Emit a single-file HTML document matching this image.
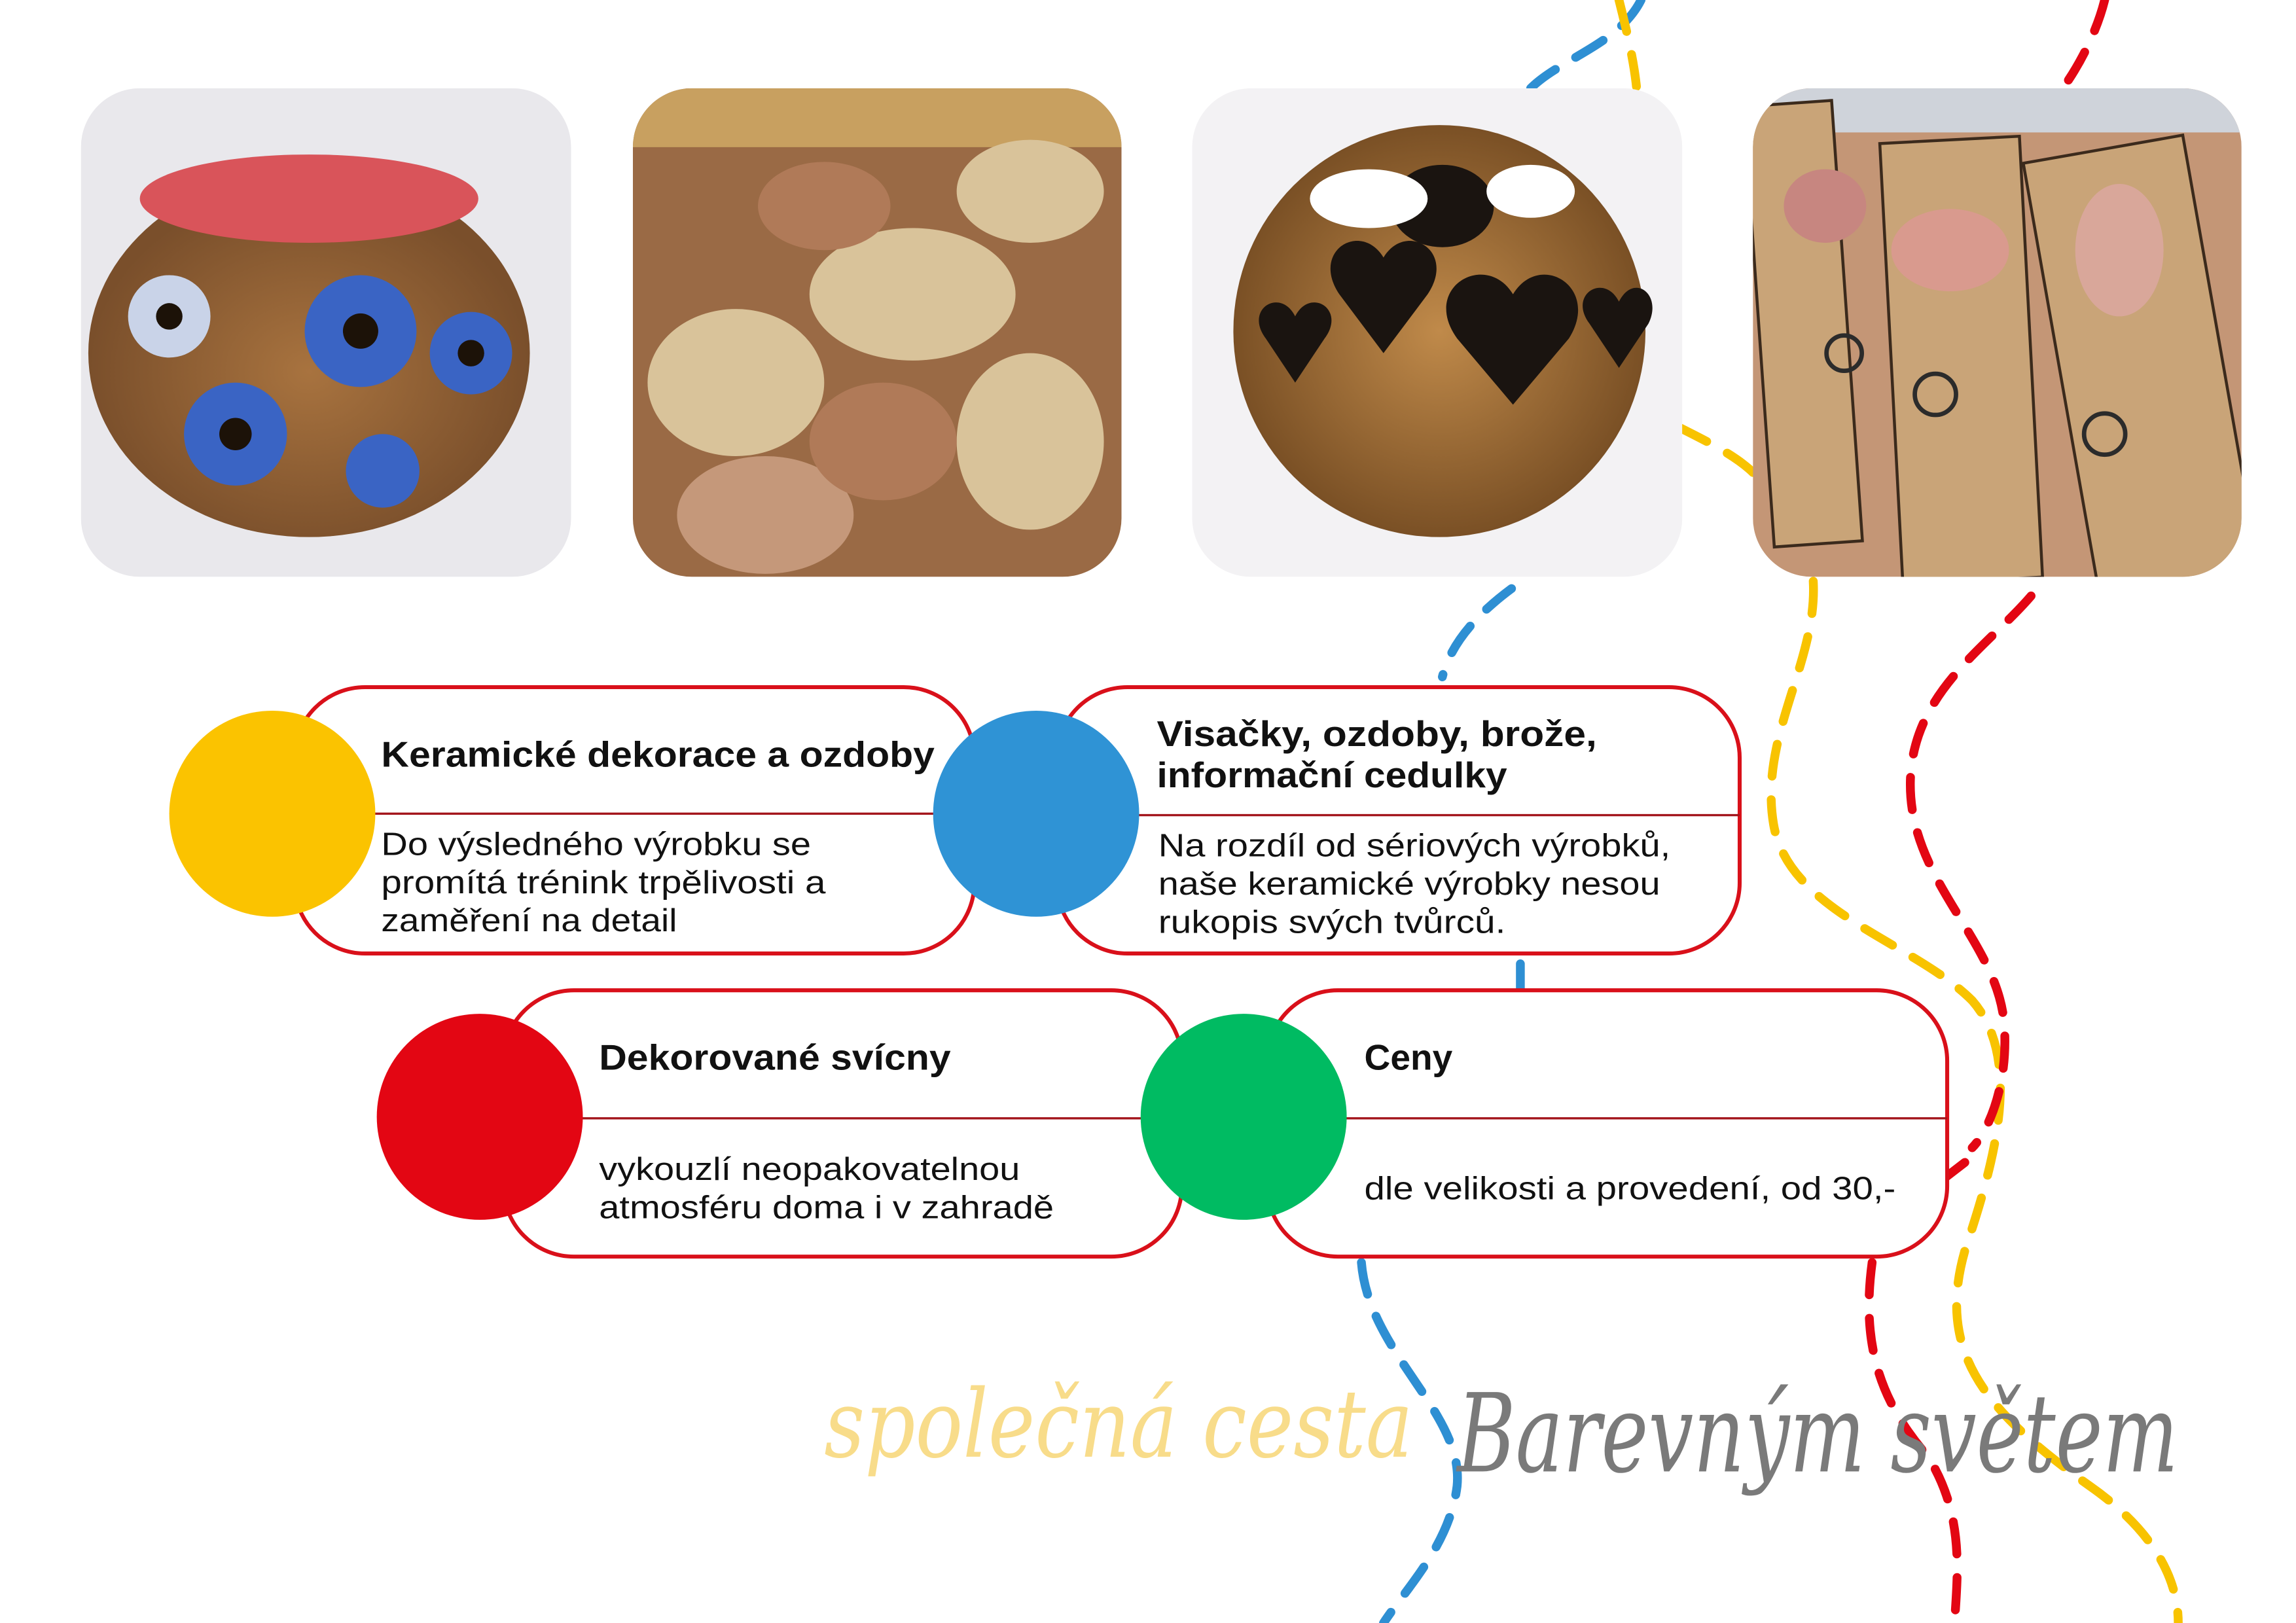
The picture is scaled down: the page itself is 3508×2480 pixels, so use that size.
<!DOCTYPE html>
<html><head><meta charset="utf-8"><style>
html,body{margin:0;padding:0;background:#fff;}
svg{display:block;}
text{font-family:"Liberation Sans",sans-serif;}
</style></head><body>
<svg width="3508" height="2480" viewBox="0 0 1560 1103" preserveAspectRatio="none" xmlns="http://www.w3.org/2000/svg">
<defs>
<clipPath id="c1"><rect x="55" y="60" width="333" height="332" rx="40"/></clipPath>
<clipPath id="c2"><rect x="430" y="60" width="332" height="332" rx="40"/></clipPath>
<clipPath id="c3"><rect x="810" y="60" width="333" height="332" rx="40"/></clipPath>
<clipPath id="c4"><rect x="1191" y="60" width="332" height="332" rx="40"/></clipPath>
<radialGradient id="g1" cx="0.5" cy="0.55" r="0.5"><stop offset="0" stop-color="#a8733f"/><stop offset="1" stop-color="#7a4f2b"/></radialGradient>
<radialGradient id="g3" cx="0.5" cy="0.5" r="0.5"><stop offset="0" stop-color="#c08a4a"/><stop offset="1" stop-color="#7a5025"/></radialGradient>
</defs>
<g fill="none" stroke-width="6" stroke-dasharray="22 16" stroke-linecap="round">
<path d="M1115 0 C1100 30 1060 40 1040 60" stroke="#2e8fd3"/>
<path d="M1027 400 C1000 420 985 440 980 460" stroke="#2e8fd3"/>
<path d="M1033 655 L1033 672" stroke="#2e8fd3"/>
<path d="M925 858 C930 920 995 960 990 1010 C985 1050 955 1080 940 1103" stroke="#2e8fd3"/>
<path d="M1100 0 C1105 20 1110 40 1112 60" stroke="#f8c300"/>
<path d="M1140 290 C1160 300 1180 310 1192 322" stroke="#f8c300"/>
<path d="M1232 395 C1235 450 1195 500 1205 560 C1215 620 1300 640 1340 680 C1375 720 1355 790 1335 850 C1315 920 1350 960 1420 1010 C1470 1045 1480 1080 1480 1103" stroke="#f8c300"/>
<path d="M1430 0 C1425 20 1415 40 1405 55" stroke="#e30613"/>
<path d="M1380 405 C1350 440 1300 470 1298 530 C1296 600 1360 640 1362 700 C1364 740 1350 770 1340 780" stroke="#e30613"/>
<path d="M1335 790 L1322 800" stroke="#e30613"/>
<path d="M1272 858 C1265 910 1275 950 1310 990 C1335 1030 1330 1070 1328 1103" stroke="#e30613"/>
</g>
<g clip-path="url(#c1)"><rect x="55" y="60" width="333" height="332" fill="#e9e8ec"/>
<ellipse cx="210" cy="240" rx="150" ry="125" fill="url(#g1)"/>
<ellipse cx="210" cy="135" rx="115" ry="30" fill="#d9545a"/>
<g fill="#3a64c4"><circle cx="245" cy="225" r="38"/><circle cx="160" cy="295" r="35"/><circle cx="115" cy="215" r="28" fill="#c9d3e8"/><circle cx="320" cy="240" r="28"/><circle cx="260" cy="320" r="25"/></g>
<g fill="#1c1208"><circle cx="245" cy="225" r="12"/><circle cx="160" cy="295" r="11"/><circle cx="115" cy="215" r="9"/><circle cx="320" cy="240" r="9"/></g>
</g>
<g clip-path="url(#c2)"><rect x="430" y="60" width="332" height="332" fill="#9a6a45"/>
<rect x="430" y="60" width="332" height="40" fill="#c8a060"/>
<g fill="#d9c39a"><ellipse cx="500" cy="260" rx="60" ry="50"/><ellipse cx="620" cy="200" rx="70" ry="45"/><ellipse cx="700" cy="300" rx="50" ry="60"/><ellipse cx="520" cy="350" rx="60" ry="40" fill="#c5987a"/><ellipse cx="700" cy="130" rx="50" ry="35"/></g>
<g fill="#b07a58"><ellipse cx="600" cy="300" rx="50" ry="40"/><ellipse cx="560" cy="140" rx="45" ry="30"/></g>
</g>
<g clip-path="url(#c3)"><rect x="810" y="60" width="333" height="332" fill="#f3f2f4"/>
<circle cx="978" cy="225" r="140" fill="url(#g3)"/>
<g fill="#1a1410"><path d="M910 200 c-20-30 15-50 30-25 c15-25 50-5 30 25 l-30 40z"/><path d="M990 230 c-25-35 20-60 38-30 c18-30 60-5 38 30 l-38 45z"/><path d="M860 230 c-15-20 10-35 20-15 c10-20 35-5 20 15 l-20 30z"/><path d="M1080 220 c-15-20 10-35 20-15 c10-20 30-5 20 15 l-20 30z"/><ellipse cx="980" cy="140" rx="35" ry="28"/></g>
<ellipse cx="930" cy="135" rx="40" ry="20" fill="#fff"/><ellipse cx="1040" cy="130" rx="30" ry="18" fill="#fff"/>
</g>
<g clip-path="url(#c4)"><rect x="1191" y="60" width="332" height="332" fill="#c49676"/>
<rect x="1191" y="60" width="332" height="30" fill="#cfd3da"/>
<g fill="#c9a478" stroke="#3b2a1c" stroke-width="2"><rect x="1195" y="70" width="60" height="300" transform="rotate(-4 1225 220)"/><rect x="1285" y="95" width="95" height="300" transform="rotate(-3 1330 245)"/><rect x="1400" y="100" width="110" height="300" transform="rotate(-10 1450 250)"/></g>
<ellipse cx="1240" cy="140" rx="28" ry="25" fill="#c78680"/><ellipse cx="1325" cy="170" rx="40" ry="28" fill="#d99a8e"/><ellipse cx="1440" cy="170" rx="30" ry="45" fill="#d9a79a"/>
<g fill="none" stroke="#2b2b2b" stroke-width="3"><circle cx="1253" cy="240" r="12"/><circle cx="1315" cy="268" r="14"/><circle cx="1430" cy="295" r="14"/></g>
</g>
<g fill="#fff" stroke="#d9101a" stroke-width="2.7">
<rect x="200" y="467" width="462" height="181" rx="48"/>
<rect x="718" y="467" width="464" height="181" rx="48"/>
<rect x="342" y="673" width="461" height="181" rx="48"/>
<rect x="861" y="673" width="462" height="181" rx="48"/>
</g>
<g stroke="#a3151c" stroke-width="1.5">
<line x1="245" y1="553" x2="662" y2="553"/><line x1="763" y1="554" x2="1182" y2="554"/>
<line x1="386" y1="760" x2="803" y2="760"/><line x1="905" y1="760" x2="1323" y2="760"/>
</g>
<circle cx="185" cy="553" r="70" fill="#fbc300"/>
<circle cx="704" cy="553" r="70" fill="#2f93d5"/>
<circle cx="326" cy="759" r="70" fill="#e30613"/>
<circle cx="845" cy="759" r="70" fill="#00bb62"/>
<g fill="#111">
<text x="259" y="521" font-size="24.5" font-weight="bold" textLength="376" lengthAdjust="spacingAndGlyphs">Keramické dekorace a ozdoby</text>
<text x="259" y="581" font-size="22" textLength="292" lengthAdjust="spacingAndGlyphs">Do výsledného výrobku se</text>
<text x="259" y="607" font-size="22" textLength="302" lengthAdjust="spacingAndGlyphs">promítá trénink trpělivosti a</text>
<text x="259" y="633" font-size="22" textLength="201" lengthAdjust="spacingAndGlyphs">zaměření na detail</text>
<text x="786" y="507" font-size="24.5" font-weight="bold" textLength="299" lengthAdjust="spacingAndGlyphs">Visačky, ozdoby, brože,</text>
<text x="786" y="535" font-size="24.5" font-weight="bold" textLength="238" lengthAdjust="spacingAndGlyphs">informační cedulky</text>
<text x="787" y="582" font-size="22" textLength="348" lengthAdjust="spacingAndGlyphs">Na rozdíl od sériových výrobků,</text>
<text x="787" y="608" font-size="22" textLength="341" lengthAdjust="spacingAndGlyphs">naše keramické výrobky nesou</text>
<text x="787" y="634" font-size="22" textLength="236" lengthAdjust="spacingAndGlyphs">rukopis svých tvůrců.</text>
<text x="407" y="727" font-size="24.5" font-weight="bold" textLength="239" lengthAdjust="spacingAndGlyphs">Dekorované svícny</text>
<text x="407" y="802" font-size="22" textLength="286" lengthAdjust="spacingAndGlyphs">vykouzlí neopakovatelnou</text>
<text x="407" y="828" font-size="22" textLength="309" lengthAdjust="spacingAndGlyphs">atmosféru doma i v zahradě</text>
<text x="927" y="727" font-size="24.5" font-weight="bold">Ceny</text>
<text x="927" y="815" font-size="22" textLength="361" lengthAdjust="spacingAndGlyphs">dle velikosti a provedení, od 30,-</text>
</g>
<text x="560" y="990" font-size="64" font-style="italic" fill="#f8dc8a" style="font-family:'DejaVu Serif',serif;font-weight:200" textLength="400" lengthAdjust="spacingAndGlyphs">společná cesta</text>
<text x="990" y="1000" font-size="74" font-style="italic" fill="#7a7a7a" style="font-family:'DejaVu Serif',serif" textLength="490" lengthAdjust="spacingAndGlyphs">Barevným světem</text>
</svg>
</body></html>
